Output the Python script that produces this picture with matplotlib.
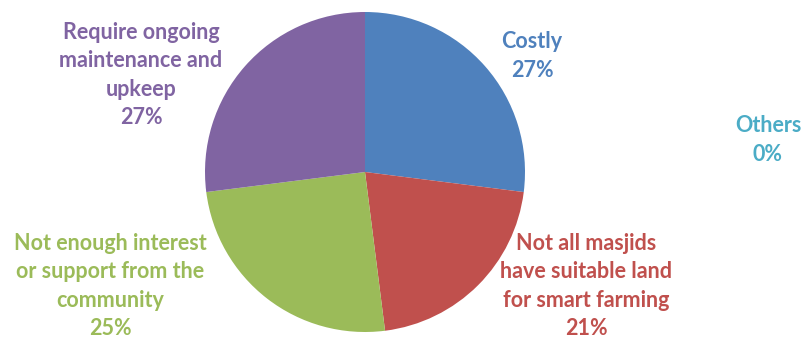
import matplotlib.pyplot as plt

# slice data (clockwise from 12 o'clock)
categories = [
    'Costly',
    'Not all masjids\nhave suitable land\nfor smart farming',
    'Not enough interest\nor support from the\ncommunity',
    'Require ongoing\nmaintenance and\nupkeep',
    'Others',
]
percent = [27, 21, 25, 27, 0]
colors = ['#4F81BD', '#C0504D', '#9BBB59', '#8064A2', '#4BACC6']

# label anchor points (pixel coords, y up)
label_xy = [(532, 282), (586, 52), (110, 52), (141, 263), (768, 198)]

fig = plt.figure(figsize=(8.03, 3.38), dpi=100)
ax = fig.add_axes([0, 0, 1, 1])

ax.pie(percent, colors=colors, startangle=90, counterclock=False,
       center=(365, 166), radius=160, frame=True,
       wedgeprops={'linewidth': 0})
ax.set_xlim(0, 803)
ax.set_ylim(0, 338)
ax.axis('off')

for name, p, c, (x, y) in zip(categories, percent, colors, label_xy):
    ax.text(x, y, f'{name}\n{p}%', color=c, ha='center', va='center',
            fontsize=15.5, fontweight='bold', family='Lato', linespacing=1.45)

plt.savefig('out.png', dpi=100)
